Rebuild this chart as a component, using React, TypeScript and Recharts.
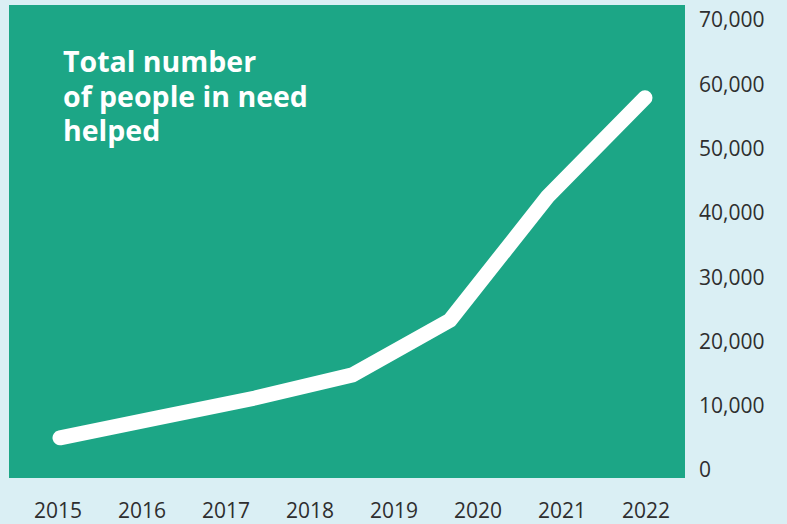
import { LineChart, Line, XAxis, YAxis, CartesianGrid } from 'recharts'

const pointIndex = [0, 1, 2, 3, 4, 5, 6]
const helped = [5000, 8100, 11200, 14800, 23300, 42500, 57900]
const yearTicks = [2015, 2016, 2017, 2018, 2019, 2020, 2021, 2022]
const valueTicks = [0, 10000, 20000, 30000, 40000, 50000, 60000, 70000]
const titleLines = ['Total number', 'of people in need', 'helped']

const data = pointIndex.map((i) => ({ i, helped: helped[i] }))

const tickStyle = { fontSize: 21, fill: '#2e2e2e', fontFamily: '"Open Sans", sans-serif', fontWeight: 400 }

export default function App() {
  return (
    <div style={{ position: 'fixed', left: 0, top: 0, width: 787, height: 524, background: '#daeff4' }}>
      <LineChart width={787} height={524} data={data} margin={{ top: 5, right: 0, bottom: 0, left: 9 }}>
        <CartesianGrid fill="#1ca686" stroke="none" horizontal={false} vertical={false} />
        <XAxis
          xAxisId="pts"
          orientation="top"
          dataKey="i"
          type="number"
          domain={[0, 6]}
          hide
          padding={{ left: 51, right: 40 }}
        />
        <XAxis
          xAxisId="years"
          dataKey="i"
          type="number"
          domain={[2015, 2022]}
          ticks={yearTicks}
          allowDataOverflow
          padding={{ left: 49, right: 39 }}
          height={46}
          axisLine={false}
          tickLine={false}
          tickSize={0}
          tickMargin={25}
          tick={tickStyle}
          interval={0}
        />
        <YAxis
          orientation="right"
          domain={[0, 70000]}
          ticks={valueTicks}
          width={102}
          padding={{ top: 15, bottom: 8 }}
          axisLine={false}
          tickLine={false}
          tickSize={0}
          tickMargin={14}
          tick={tickStyle}
          tickFormatter={(v: number) => v.toLocaleString('en-US')}
        />
        <Line
          xAxisId="pts"
          dataKey="helped"
          type="linear"
          stroke="#ffffff"
          strokeWidth={15}
          strokeLinecap="round"
          strokeLinejoin="miter"
          dot={false}
          activeDot={false}
          isAnimationActive={false}
        />
      </LineChart>
      <div
        style={{
          position: 'absolute',
          left: 63,
          top: 44,
          color: '#ffffff',
          fontFamily: '"Open Sans", sans-serif',
          fontWeight: 700,
          fontSize: 28.5,
          lineHeight: '34.5px',
        }}
      >
        {titleLines.map((t) => (
          <div key={t}>{t}</div>
        ))}
      </div>
    </div>
  )
}
